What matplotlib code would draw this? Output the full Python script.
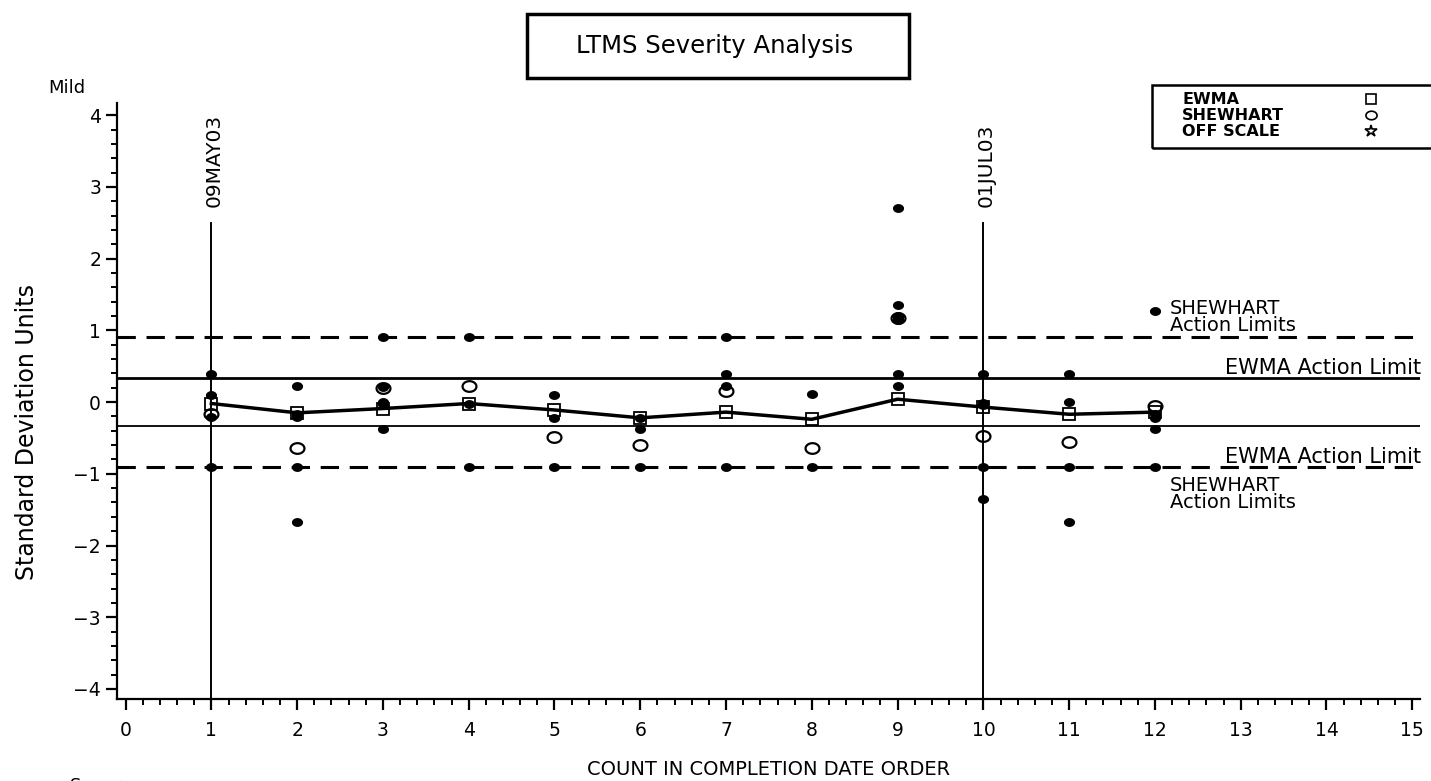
import numpy as np
import matplotlib
matplotlib.use("Agg")
import matplotlib.pyplot as plt
from matplotlib.path import Path
from matplotlib.patches import Rectangle

# ---- data ----
test_order = [1, 2, 3, 4, 5, 6, 7, 8, 9, 10, 11, 12]
ewma = [-0.02, -0.15, -0.09, -0.02, -0.11, -0.22, -0.14, -0.24, 0.04, -0.07, -0.17, -0.14]
shewhart = [-0.16, -0.64, 0.19, 0.23, -0.48, -0.60, 0.15, -0.64, 1.17, -0.47, -0.55, -0.06]

# individual results (filled dots)
res_x = [1, 1, 1, 1,
         2, 2, 2, 2, 2,
         3, 3, 3, 3, 3,
         4, 4, 4,
         5, 5, 5,
         6, 6, 6,
         7, 7, 7, 7,
         8, 8,
         9, 9, 9, 9, 9, 9, 9,
         10, 10, 10, 10, 10,
         11, 11, 11, 11,
         12, 12, 12, 12, 12]
res_y = [0.39, 0.10, -0.21, -0.90,
         0.23, -0.17, -0.21, -0.90, -1.67,
         0.91, 0.21, 0.00, -0.03, -0.38,
         0.91, -0.02, -0.90,
         0.10, -0.22, -0.90,
         -0.22, -0.38, -0.90,
         0.91, 0.39, 0.22, -0.90,
         0.11, -0.90,
         2.70, 1.35, 1.20, 1.17, 1.15, 0.39, 0.22,
         0.39, -0.01, -0.04, -0.90, -1.35,
         0.39, 0.00, -0.90, -1.67,
         1.27, -0.16, -0.22, -0.38, -0.90]

shewhart_limit = 0.91
ewma_limit = 0.33
date_marks = [1, 10]
date_labels = ["09MAY03", "01JUL03"]

# ---- styling ----
plt.rcParams["font.family"] = ["DejaVu Sans"]

t = np.linspace(0, 2 * np.pi, 40)
ellipse = Path(np.column_stack([1.3 * np.cos(t), np.sin(t)]), closed=True)

fig = plt.figure(figsize=(14.31, 7.81), dpi=100)
ax = fig.add_axes([117 / 1431, 82 / 781, 1303 / 1431, 596 / 781])

ax.set_xlim(-0.1, 15.09)
ax.set_ylim(-4.14, 4.17)

# limit lines
for s in (1, -1):
    ax.axhline(s * shewhart_limit, color="black", lw=2.2, dashes=(6, 3.5), zorder=2)
ax.axhline(ewma_limit, color="black", lw=2.0, zorder=2)
ax.axhline(-ewma_limit, color="black", lw=1.3, zorder=2)

# date reference lines
for xm, lab in zip(date_marks, date_labels):
    ax.plot([xm, xm], [-4.14, 2.5], color="black", lw=1.4, zorder=2, clip_on=False)
    ax.text(xm + 0.03, 2.72, lab, rotation=90, ha="center", va="bottom",
            fontsize=14.5)

# points
ax.plot(res_x, res_y, linestyle="none", marker=ellipse, markersize=7,
        color="black", zorder=4)
ax.plot(test_order, shewhart, linestyle="none", marker=ellipse, markersize=10,
        markerfacecolor="none", markeredgecolor="black", markeredgewidth=1.6, zorder=5)
ax.plot(test_order, ewma, color="black", lw=2.5, marker="s", markersize=8,
        markerfacecolor="none", markeredgecolor="black", markeredgewidth=1.3, zorder=6)

# right-hand annotations
ax.text(12.17, 1.44, "SHEWHART\nAction Limits", fontsize=14, ha="left", va="top",
        linespacing=0.85)
ax.text(15.1, 0.48, "EWMA Action Limit", fontsize=15, ha="right", va="center", clip_on=False)
ax.text(15.1, -0.77, "EWMA Action Limit", fontsize=15, ha="right", va="center", clip_on=False)
ax.text(12.17, -1.03, "SHEWHART\nAction Limits", fontsize=14, ha="left", va="top",
        linespacing=0.85)

# axes styling
for side in ("top", "right"):
    ax.spines[side].set_visible(False)
for side in ("left", "bottom"):
    ax.spines[side].set_linewidth(1.6)

ax.set_xticks(np.arange(0, 16))
ax.set_xticks(np.arange(0, 15.01, 0.2), minor=True)
ax.set_yticks(np.arange(-4, 5))
ax.set_yticks(np.arange(-4, 4.01, 0.2), minor=True)
ax.tick_params(which="major", length=8, width=1.6, labelsize=13.5, direction="out")
ax.tick_params(which="minor", length=4, width=1.4, direction="out")
ax.tick_params(axis="x", pad=8)

ax.set_xlabel("COUNT IN COMPLETION DATE ORDER", fontsize=14, labelpad=14)
fig.text(27 / 1431, 1 - 432 / 781, "Standard Deviation Units", rotation=90,
         ha="center", va="center", fontsize=17)
fig.text(48 / 1431, 1 - 88 / 781, "Mild", fontsize=13, ha="left", va="center")
# bottom scale word, mostly below the page edge as in the source
fig.text(70 / 1431, 1 - 777 / 781, "Severe", fontsize=13, ha="left", va="top")

# title box
fig.patches.append(Rectangle((527 / 1431, 1 - 78 / 781), 382 / 1431, 64 / 781,
                             transform=fig.transFigure, fill=False, lw=2.5,
                             edgecolor="black"))
fig.text(715 / 1431, 1 - 46 / 781, "LTMS Severity Analysis", fontsize=17.5,
         ha="center", va="center")

# legend box
fig.patches.append(Rectangle((1152 / 1431, 1 - 148 / 781), 290 / 1431, 63 / 781,
                             transform=fig.transFigure, fill=False, lw=1.8,
                             edgecolor="black", clip_on=False))
leg_names = ["EWMA", "SHEWHART", "OFF SCALE"]
leg_markers = ["s", ellipse, "*"]
leg_sizes = [7, 8, 9]
for i, (name, mk, ms) in enumerate(zip(leg_names, leg_markers, leg_sizes)):
    yy = 1 - (99 + 16 * i) / 781
    fig.text(1182 / 1431, yy, name, fontsize=11.5, fontweight="bold",
             ha="left", va="center")
    fig.lines.append(plt.Line2D([1371 / 1431], [yy], transform=fig.transFigure,
                                marker=mk, markersize=ms, markerfacecolor="none",
                                markeredgecolor="black", markeredgewidth=1.2,
                                linestyle="none"))

fig.savefig("out.png", dpi=100)
